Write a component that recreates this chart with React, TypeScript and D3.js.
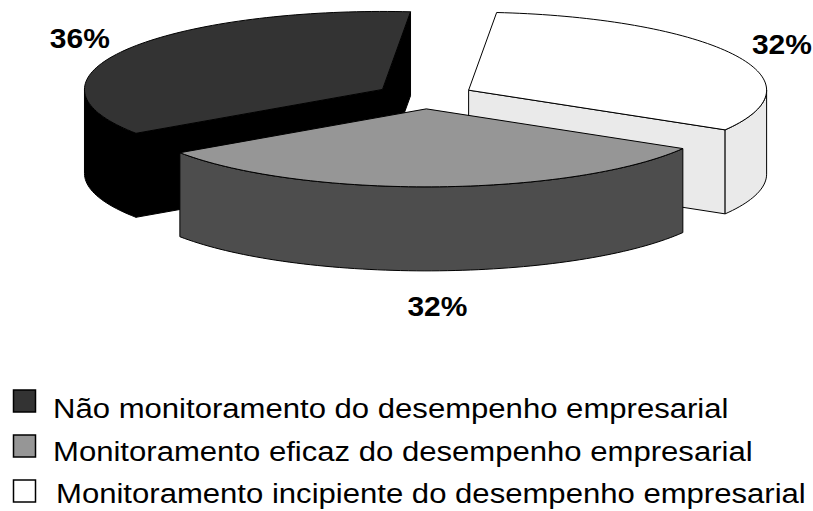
import React from "react";
import * as d3 from "d3";

const categories = [
  "Não monitoramento do desempenho empresarial",
  "Monitoramento eficaz do desempenho empresarial",
  "Monitoramento incipiente do desempenho empresarial",
];
const values = [36, 32, 32];
const labels = ["36%", "32%", "32%"];
const topColors = ["#333333", "#969696", "#ffffff"];
const sideColors = ["#000000", "#4d4d4d", "#eaeaea"];

const W = 813;
const H = 511;
const CX = 424.8;
const CY = 96;
const RX = 298;
const RY = 78;
const DEPTH = 84;
const EXPLODE = 0.165;
const START_DEG = 5.4; // d3 pie angle (from 12 o'clock)
const FONT = "'Liberation Sans', Arial, Helvetica, sans-serif";
const SX = 1.11;

const rad = (d: number) => (d * Math.PI) / 180;

type Slice = {
  i: number;
  a: number;
  b: number;
  m: number;
  ax: number;
  ay: number;
};

function buildSlices(): Slice[] {
  const pie = d3
    .pie<number>()
    .sort(null)
    .value((d) => d)
    .startAngle(rad(START_DEG))
    .endAngle(rad(START_DEG - 360));
  const arcs = pie(values);
  return arcs.map((arc, i) => {
    const hi = (arc.startAngle * 180) / Math.PI - 90;
    const lo = (arc.endAngle * 180) / Math.PI - 90;
    let a = lo;
    let b = hi;
    while (a < -180) {
      a += 360;
      b += 360;
    }
    while (a >= 180) {
      a -= 360;
      b -= 360;
    }
    const m = (a + b) / 2;
    const ax = CX + EXPLODE * RX * Math.cos(rad(m));
    const ay = CY + EXPLODE * RY * Math.sin(rad(m));
    return { i, a, b, m, ax, ay };
  });
}

const line = d3
  .line<[number, number]>()
  .x((d) => d[0])
  .y((d) => d[1]);

function pt(s: Slice, t: number, dz = 0): [number, number] {
  return [s.ax + RX * Math.cos(rad(t)), s.ay + RY * Math.sin(rad(t)) + dz];
}

function arcPts(s: Slice, t0: number, t1: number, dz = 0): [number, number][] {
  const n = Math.max(2, Math.ceil(Math.abs(t1 - t0) / 1.5));
  return d3.range(n + 1).map((k) => pt(s, t0 + ((t1 - t0) * k) / n, dz));
}

function topPath(s: Slice) {
  const pts: [number, number][] = [[s.ax, s.ay], ...arcPts(s, s.a, s.b)];
  return line(pts) + "Z";
}

function outerWalls(s: Slice): string[] {
  const out: string[] = [];
  for (const k of [-1, 0, 1]) {
    const lo = Math.max(s.a, 360 * k);
    const hi = Math.min(s.b, 360 * k + 180);
    if (hi > lo) {
      const pts = [...arcPts(s, lo, hi), ...arcPts(s, hi, lo, DEPTH)];
      out.push(line(pts) + "Z");
    }
  }
  return out;
}

function radialWall(s: Slice, t: number) {
  const p = pt(s, t);
  const pts: [number, number][] = [
    [s.ax, s.ay],
    p,
    [p[0], p[1] + DEPTH],
    [s.ax, s.ay + DEPTH],
  ];
  return line(pts) + "Z";
}

export default function App() {
  const slices = buildSlices();
  const order = [...slices].sort((p, q) => p.ay - q.ay);

  return (
    <svg
      width={W}
      height={H}
      style={{ position: "absolute", left: 0, top: 0, background: "#fff" }}
      fontFamily={FONT}
    >
      <rect x={0} y={0} width={W} height={H} fill="#ffffff" />
      {order.map((s) => {
        const walls: string[] = [];
        if (Math.cos(rad(s.a)) < 0) walls.push(radialWall(s, s.a));
        if (Math.cos(rad(s.b)) > 0) walls.push(radialWall(s, s.b));
        walls.push(...outerWalls(s));
        return (
          <g key={s.i}>
            {walls.map((d, k) => (
              <path
                key={k}
                d={d}
                fill={sideColors[s.i]}
                stroke="#000"
                strokeWidth={1}
                strokeLinejoin="round"
              />
            ))}
            <path
              d={topPath(s)}
              fill={topColors[s.i]}
              stroke="#000"
              strokeWidth={1}
              strokeLinejoin="round"
            />
          </g>
        );
      })}
      {slices.map((s) => {
        const k = 1.18;
        const c = Math.cos(rad(s.m));
        const sn = Math.sin(rad(s.m));
        const x = s.ax + RX * k * c;
        let y = s.ay + RY * 1.2 * sn;
        let base: number;
        if (sn > 0) {
          y += DEPTH;
          base = y + 30;
        } else {
          base = y + 6;
        }
        return (
          <text
            key={s.i}
            transform={`translate(${x},${base}) scale(${SX},1)`}
            textAnchor="middle"
            fontSize={27}
            fontWeight="bold"
            fill="#000"
          >
            {labels[s.i]}
          </text>
        );
      })}
      {categories.map((c, i) => (
        <g key={c}>
          <rect
            x={13.5}
            y={390 + i * 45}
            width={22}
            height={22}
            fill={topColors[i]}
            stroke="#000"
            strokeWidth={1.5}
          />
          <text
            transform={`translate(${53 + (i === 2 ? 3 : 0)},${418 + i * 42.5}) scale(${SX},1)`}
            fontSize={28}
            fill="#000"
          >
            {c}
          </text>
        </g>
      ))}
    </svg>
  );
}
